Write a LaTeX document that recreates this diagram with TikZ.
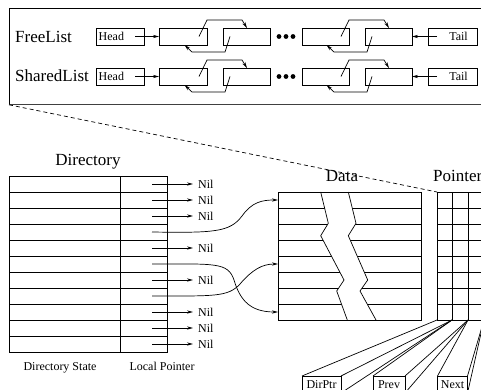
\documentclass[tikz,border=0pt]{standalone}
\usepackage{fontspec}
\setmainfont{Liberation Serif}
\usetikzlibrary{arrows.meta,calc}
\tikzset{
  ln/.style={line width=0.7pt},
  cellbox/.style={draw, line width=0.7pt, minimum height=17pt, inner sep=0pt, outer sep=0pt},
  tipline/.style={line width=0.7pt, -{Stealth[length=6pt,width=3.2pt]}},
  bigtext/.style={font=\fontsize{17}{20}\selectfont, inner sep=0pt},
  smalltext/.style={font=\fontsize{12}{14}\selectfont},
}
\begin{document}
\begin{tikzpicture}[x=1pt,y=-1pt]
\path[use as bounding box] (0,0) rectangle (481,390);
\clip (0,0) rectangle (481,390);

% ---------- top panel ----------
\node[draw, line width=0.8pt, anchor=north west, minimum width=500pt, minimum height=96pt, inner sep=0pt] (panel) at (9,8) {};
\draw[line width=1.3pt, black!75] (panel.south west) -- (panel.south east);

\node[bigtext, anchor=base west] (fl) at (15,43) {FreeList};
\node[bigtext, anchor=base west] (sl) at (15,82) {SharedList};

\foreach \r/\yc in {1/36.5,2/76.5}{
  \node[cellbox, minimum width=48pt] (head\r) at (120,\yc) {};
  \node[smalltext, anchor=west, inner sep=0pt] (headt\r) at ($(head\r.west)+(2.5,0)$) {Head};
  \node[cellbox, minimum width=48pt] (a\r) at (183,\yc) {};
  \node[cellbox, minimum width=47pt] (b\r) at (246.5,\yc) {};
  \node[cellbox, minimum width=47pt] (c\r) at (325.5,\yc) {};
  \node[cellbox, minimum width=47pt] (d\r) at (388.5,\yc) {};
  \node[cellbox, minimum width=49pt] (tail\r) at (452.5,\yc) {};
  \node[smalltext, anchor=east, inner sep=0pt] (tailt\r) at ($(tail\r.east)+(-9,0)$) {Tail};
  \coordinate (hp\r) at ($(head\r.east)+(-9,0)$);
  \coordinate (tp\r) at ($(tail\r.west)+(9,0)$);
  \draw[tipline] (hp\r) -- (a\r.west);
  \draw[tipline] (tp\r) -- (d\r.east);
  \foreach \dx in {279,286,293} \fill (\dx,\yc) circle (2.4pt);
  \foreach \p/\q in {a/b,c/d}{
    \draw[tipline] ($(\p\r.east)+(-8,0)$) -- ($(\p\r.north east)+(0,-8)$) -- ($(\q\r.north west)+(19,-8)$) -- ($(\q\r.north west)+(24,0)$);
    \draw[tipline] ($(\q\r.west)+(7,0)$) -- ($(\q\r.south west)+(2,7)$) -- ($(\p\r.south east)+(-15,7)$) -- ($(\p\r.south east)+(-22.5,0)$);
  }
}

% dashed zoom line
\coordinate (ptl) at (437,192);
\draw[ln, dash pattern=on 4pt off 3pt] (panel.south west) -- (ptl);

% ---------- directory ----------
\node[bigtext, anchor=base] (dirt) at (88,165) {Directory};
\draw[ln] (9,176) rectangle (167,352);
\draw[ln] (120,176) -- (120,352);
\foreach \k in {1,...,10} \draw[ln] (9,{176+16*\k}) -- (167,{176+16*\k});
\foreach \k in {1,...,11} \coordinate (lp\k) at (152,{176+16*\k-8});
\foreach \k in {1,2,3,5,7,9,10,11}{
  \node[smalltext, anchor=west, inner sep=2pt] (nil\k) at (196,{176+16*\k-8}) {Nil};
  \draw[tipline, shorten >=3pt] (lp\k) -- (nil\k.west);
}
\node[smalltext, anchor=base] (dst) at (60,370) {Directory State};
\node[smalltext, anchor=base] (lpt) at (162,370) {Local Pointer};

% ---------- data ----------
\node[bigtext, anchor=base] (datat) at (342,181) {Data};
\foreach \k in {1,...,7} \draw[ln] (278,{192+16*\k}) -- (421,{192+16*\k});
\fill[white] (320.7,192) -- (328.3,223.3) -- (320.7,235.7) -- (344,280) -- (336.7,291) -- (347.3,320)
  -- (376,320) -- (360,291) -- (367.7,280) -- (348.3,235.7) -- (356,223.3) -- (348.3,192) -- cycle;
\draw[ln] (320.7,192) -- (328.3,223.3) -- (320.7,235.7) -- (344,280) -- (336.7,291) -- (347.3,320);
\draw[ln] (348.3,192) -- (356,223.3) -- (348.3,235.7) -- (367.7,280) -- (360,291) -- (376,320);
\draw[ln] (278,192) rectangle (421,320);
\coordinate (dr1) at (278,200);
\coordinate (dr5) at (278,264);
\coordinate (dr8) at (278,312);

\draw[tipline] (lp4) .. controls (215,233) and (230,232) .. (242,216) .. controls (252,202) and (262,200) .. (dr1);
\draw[tipline] (lp6) .. controls (215,264) and (228,262) .. (234,280) .. controls (240,300) and (250,312) .. (dr8);
\draw[tipline] (lp8) .. controls (215,296) and (228,297) .. (240,284) .. controls (252,270) and (262,264) .. (dr5);

% ---------- pointer ----------
\node[bigtext, anchor=base west] (ptrt) at (433,181) {Pointer};
\draw[ln] (437,192) rectangle (500,320);
\foreach \xx in {452,468,484} \draw[ln] (\xx,192) -- (\xx,320);
\foreach \k in {1,...,7} \draw[ln] (437,{192+16*\k}) -- (500,{192+16*\k});
\coordinate (pb0) at (437,320);
\coordinate (pb1) at (452,320);
\coordinate (pb2) at (468,320);
\coordinate (pb3) at (484,320);

\node[cellbox, smalltext, minimum width=39pt, anchor=north west] (dirptr) at (302,376) {DirPtr};
\node[cellbox, smalltext, minimum width=32pt, anchor=north west] (prev) at (373,376) {Prev};
\node[cellbox, smalltext, minimum width=30pt, anchor=north west] (next) at (437.5,376) {Next};

\draw[ln] (dirptr.north west) -- (pb0);
\draw[ln] (dirptr.north east) -- (pb1);
\draw[ln] (dirptr.south east) -- (pb1);
\draw[ln] (prev.north west) -- (pb1);
\draw[ln] (prev.north east) -- (pb2);
\draw[ln] (prev.south east) -- (pb2);
\draw[ln] (next.north west) -- (pb2);
\draw[ln] (next.north east) -- (pb3);
\draw[ln] (next.south east) -- (pb3);
\end{tikzpicture}
\end{document}
